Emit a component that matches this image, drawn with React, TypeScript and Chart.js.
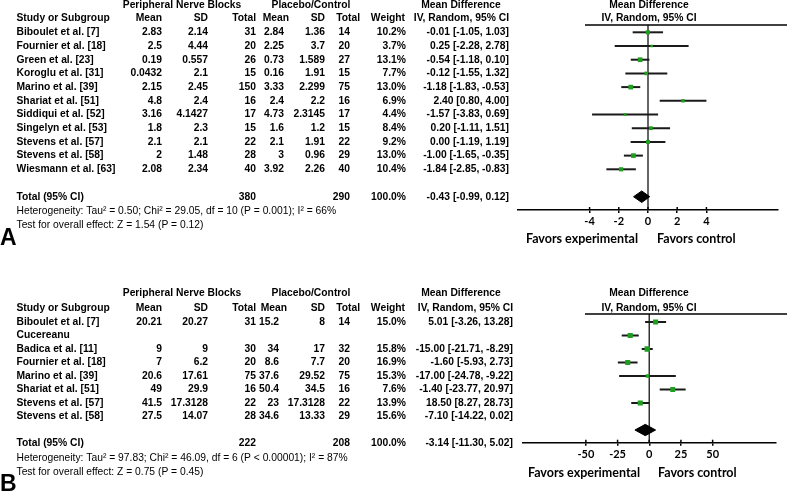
import React, { useEffect, useRef } from "react";
import { Chart, registerables } from "chart.js";

Chart.register(...registerables);

// ---------------- Panel A data ----------------
const studiesA = [
  "Biboulet et al. [7]",
  "Fournier et al. [18]",
  "Green et al. [23]",
  "Koroglu et al. [31]",
  "Marino et al. [39]",
  "Shariat et al. [51]",
  "Siddiqui et al. [52]",
  "Singelyn et al. [53]",
  "Stevens et al. [57]",
  "Stevens et al. [58]",
  "Wiesmann et al. [63]",
];
const pnbMeanA = [2.83, 2.5, 0.19, 0.0432, 2.15, 4.8, 3.16, 1.8, 2.1, 2, 2.08];
const pnbSdA = [2.14, 4.44, 0.557, 2.1, 2.45, 2.4, 4.1427, 2.3, 2.1, 1.48, 2.34];
const pnbTotalA = [31, 20, 26, 15, 150, 16, 17, 15, 22, 28, 40];
const ctlMeanA = [2.84, 2.25, 0.73, 0.16, 3.33, 2.4, 4.73, 1.6, 2.1, 3, 3.92];
const ctlSdA = [1.36, 3.7, 1.589, 1.91, 2.299, 2.2, 2.3145, 1.2, 1.91, 0.96, 2.26];
const ctlTotalA = [14, 20, 27, 15, 75, 16, 17, 15, 22, 29, 40];
const weightA = [10.2, 3.7, 13.1, 7.7, 13.0, 6.9, 4.4, 8.4, 9.2, 13.0, 10.4];
const mdA = [-0.01, 0.25, -0.54, -0.12, -1.18, 2.4, -1.57, 0.2, 0.0, -1.0, -1.84];
const lowA = [-1.05, -2.28, -1.18, -1.55, -1.83, 0.8, -3.83, -1.11, -1.19, -1.65, -2.85];
const highA = [1.03, 2.78, 0.1, 1.32, -0.53, 4.0, 0.69, 1.51, 1.19, -0.35, -0.83];
const totalsA = [380, 290];
const pooledA = [-0.43, -0.99, 0.12];
const hetA = "Heterogeneity: Tau² = 0.50; Chi² = 29.05, df = 10 (P = 0.001); I² = 66%";
const overallA = "Test for overall effect: Z = 1.54 (P = 0.12)";
const ticksA = [-4, -2, 0, 2, 4];
const rangeA = [-8.9, 8.9];

// ---------------- Panel B data ----------------
const studiesB = [
  "Biboulet et al. [7]",
  "Cucereanu\nBadica et al. [11]",
  "Fournier et al. [18]",
  "Marino et al. [39]",
  "Shariat et al. [51]",
  "Stevens et al. [57]",
  "Stevens et al. [58]",
];
const pnbMeanB = [20.21, 9, 7, 20.6, 49, 41.5, 27.5];
const pnbSdB = [20.27, 9, 6.2, 17.61, 29.9, 17.3128, 14.07];
const pnbTotalB = [31, 30, 20, 75, 16, 22, 28];
const ctlMeanB = [15.2, 34, 8.6, 37.6, 50.4, 23, 34.6];
const ctlSdB = [8, 17, 7.7, 29.52, 34.5, 17.3128, 13.33];
const ctlTotalB = [14, 32, 20, 75, 16, 22, 29];
const weightB = [15.0, 15.8, 16.9, 15.3, 7.6, 13.9, 15.6];
const mdB = [5.01, -15.0, -1.6, -17.0, -1.4, 18.5, -7.1];
const lowB = [-3.26, -21.71, -5.93, -24.78, -23.77, 8.27, -14.22];
const highB = [13.28, -8.29, 2.73, -9.22, 20.97, 28.73, 0.02];
const totalsB = [222, 208];
const pooledB = [-3.14, -11.3, 5.02];
const hetB = "Heterogeneity: Tau² = 97.83; Chi² = 46.09, df = 6 (P < 0.00001); I² = 87%";
const overallB = "Test for overall effect: Z = 0.75 (P = 0.45)";
const ticksB = [-50, -25, 0, 25, 50];
const rangeB = [-100, 100];

const ARIAL = "'Liberation Sans', Arial, sans-serif";
const CAL = "Lato, 'Open Sans', sans-serif";
const BOLD = `bold 10.3px ${ARIAL}`;
const NORMAL = `10.3px ${ARIAL}`;

type Panel = {
  letter: string;
  studies: string[];
  pnbMean: number[];
  pnbSd: number[];
  pnbTotal: number[];
  ctlMean: number[];
  ctlSd: number[];
  ctlTotal: number[];
  weight: number[];
  md: number[];
  low: number[];
  high: number[];
  totals: number[];
  pooled: number[];
  het: string;
  overall: string;
  ticks: number[];
  range: number[];
  sequentialPlotRows: boolean;
  L: any;
};

const panelA: Panel = {
  letter: "A",
  studies: studiesA,
  pnbMean: pnbMeanA,
  pnbSd: pnbSdA,
  pnbTotal: pnbTotalA,
  ctlMean: ctlMeanA,
  ctlSd: ctlSdA,
  ctlTotal: ctlTotalA,
  weight: weightA,
  md: mdA,
  low: lowA,
  high: highA,
  totals: totalsA,
  pooled: pooledA,
  het: hetA,
  overall: overallA,
  ticks: ticksA,
  range: rangeA,
  sequentialPlotRows: false,
  L: {
    H: 250,
    head1: 5.5,
    head2: 18.5,
    lineY: 25,
    row0: 32.3,
    step: 13.7,
    axisY: 210,
    plotLeft: 518,
    plotRight: 778,
    favorsY: 239,
    favL: 638,
    favR: 657,
    letterY: 245,
    cols: [162, 208, 256, 284, 325, 350, 406, 509],
    ctlMeanHead: 289,
    mdHead: 509,
  },
};

const panelB: Panel = {
  letter: "B",
  studies: studiesB,
  pnbMean: pnbMeanB,
  pnbSd: pnbSdB,
  pnbTotal: pnbTotalB,
  ctlMean: ctlMeanB,
  ctlSd: ctlSdB,
  ctlTotal: ctlTotalB,
  weight: weightB,
  md: mdB,
  low: lowB,
  high: highB,
  totals: totalsB,
  pooled: pooledB,
  het: hetB,
  overall: overallB,
  ticks: ticksB,
  range: rangeB,
  sequentialPlotRows: true,
  L: {
    H: 241,
    head1: 43.3,
    head2: 58.3,
    lineY: 64,
    row0: 72,
    step: 13.5,
    axisY: 192.7,
    plotLeft: 522.5,
    plotRight: 776,
    favorsY: 222.7,
    favL: 640,
    favR: 658,
    letterY: 241,
    cols: [162, 208, 256, 279, 325, 350, 406, 513],
    ctlMeanHead: 287,
    mdHead: 513,
  },
};

function fmtCI(m: number, lo: number, hi: number) {
  return `${m.toFixed(2)} [${lo.toFixed(2)}, ${hi.toFixed(2)}]`;
}

function buildConfig(p: Panel): any {
  const L = p.L;
  const yMin = (L.lineY - L.row0) / L.step;
  const yMax = (L.axisY - L.row0) / L.step;

  const tableRows: number[] = [];
  let r = 0;
  p.studies.forEach((s) => {
    const lines = s.split("\n").length;
    r += lines - 1;
    tableRows.push(r);
    r += 1;
  });
  const lastTableRow = r - 1;
  const totalRow = lastTableRow + 2;
  const plotRows = p.md.map((_, i) => (p.sequentialPlotRows ? i : tableRows[i]));
  const diamondRow = p.md.length + 1;
  const dh = 0.42;
  const [pm, plo, phi] = p.pooled;

  const datasets: any[] = [];
  datasets.push({
    label: "effect",
    data: p.md.map((m, i) => ({ x: m, y: plotRows[i] })),
    pointStyle: "rect",
    pointRadius: p.weight.map((w) => 0.92 * Math.sqrt(w)),
    backgroundColor: "#1f9f1f",
    borderWidth: 0,
    order: 0,
  });
  datasets.push({
    label: "pooled",
    data: [
      { x: plo, y: diamondRow },
      { x: pm, y: diamondRow - dh },
      { x: phi, y: diamondRow },
      { x: pm, y: diamondRow + dh },
      { x: plo, y: diamondRow },
    ],
    showLine: true,
    fill: "shape",
    backgroundColor: "#000",
    borderColor: "#000",
    borderWidth: 1,
    pointRadius: 0,
    order: 1,
  });
  p.md.forEach((_, i) => {
    datasets.push({
      label: "ci" + i,
      data: [
        { x: p.low[i], y: plotRows[i] },
        { x: p.high[i], y: plotRows[i] },
      ],
      showLine: true,
      borderColor: "#1a1a1a",
      borderWidth: 2,
      pointRadius: 0,
      order: 2,
    });
  });
  datasets.push({
    label: "zero",
    data: [
      { x: 0, y: yMin },
      { x: 0, y: yMax },
    ],
    showLine: true,
    borderColor: "#333",
    borderWidth: 1.5,
    pointRadius: 0,
    order: 3,
  });

  const tablePlugin = {
    id: "forestTable",
    afterDraw(chart: any) {
      const ctx = chart.ctx as CanvasRenderingContext2D;
      const rowY = (row: number) => L.row0 + row * L.step;
      const t = (s: string, x: number, y: number, align: CanvasTextAlign, font: string) => {
        ctx.font = font;
        ctx.textAlign = align;
        ctx.textBaseline = "middle";
        ctx.fillText(s, x, y);
      };
      ctx.save();
      ctx.fillStyle = "#000";
      const c = L.cols;
      t("Peripheral Nerve Blocks", 182, L.head1, "center", BOLD);
      t("Placebo/Control", 311, L.head1, "center", BOLD);
      t("Mean Difference", 461, L.head1, "center", BOLD);
      t("Mean Difference", 649, L.head1, "center", BOLD);
      t("Study or Subgroup", 16.5, L.head2, "left", BOLD);
      t("Mean", c[0], L.head2, "right", BOLD);
      t("SD", c[1], L.head2, "right", BOLD);
      t("Total", c[2], L.head2, "right", BOLD);
      t("Mean", L.ctlMeanHead, L.head2, "right", BOLD);
      t("SD", c[4], L.head2, "right", BOLD);
      t("Total", 360, L.head2, "right", BOLD);
      t("Weight", 405, L.head2, "right", BOLD);
      t("IV, Random, 95% CI", L.mdHead, L.head2, "right", BOLD);
      t("IV, Random, 95% CI", 649, L.head2, "center", BOLD);
      ctx.strokeStyle = "#000";
      ctx.lineWidth = 1.5;
      ctx.beginPath();
      ctx.moveTo(585, L.lineY);
      ctx.lineTo(787, L.lineY);
      ctx.stroke();
      p.studies.forEach((s, i) => {
        const lines = s.split("\n");
        const last = tableRows[i];
        lines.forEach((ln, k) => t(ln, 16.5, rowY(last - (lines.length - 1 - k)), "left", BOLD));
        const y = rowY(last);
        t(String(p.pnbMean[i]), c[0], y, "right", BOLD);
        t(String(p.pnbSd[i]), c[1], y, "right", BOLD);
        t(String(p.pnbTotal[i]), c[2], y, "right", BOLD);
        t(String(p.ctlMean[i]), c[3], y, "right", BOLD);
        t(String(p.ctlSd[i]), c[4], y, "right", BOLD);
        t(String(p.ctlTotal[i]), c[5], y, "right", BOLD);
        t(p.weight[i].toFixed(1) + "%", c[6], y, "right", BOLD);
        t(fmtCI(p.md[i], p.low[i], p.high[i]), c[7], y, "right", BOLD);
      });
      const ty = rowY(totalRow);
      t("Total (95% CI)", 16.5, ty, "left", BOLD);
      t(String(p.totals[0]), c[2], ty, "right", BOLD);
      t(String(p.totals[1]), c[5], ty, "right", BOLD);
      t("100.0%", c[6], ty, "right", BOLD);
      t(fmtCI(pm, plo, phi), c[7], ty, "right", BOLD);
      t(p.het, 16.5, ty + 14.5, "left", NORMAL);
      t(p.overall, 16.5, ty + 28.5, "left", NORMAL);
      const xs = chart.scales.x;
      ctx.strokeStyle = "#000";
      ctx.lineWidth = 1.5;
      xs.ticks.forEach((tk: any) => {
        const x = xs.getPixelForValue(tk.value);
        ctx.beginPath();
        ctx.moveTo(x, L.axisY - 3);
        ctx.lineTo(x, L.axisY);
        ctx.stroke();
      });
      t("Favors experimental", L.favL, L.favorsY, "right", `bold 12.5px ${CAL}`);
      t("Favors control", L.favR, L.favorsY, "left", `bold 12.5px ${CAL}`);
      ctx.font = `bold 23px ${ARIAL}`;
      ctx.textAlign = "left";
      ctx.textBaseline = "alphabetic";
      ctx.fillText(p.letter, 0, L.letterY);
      ctx.restore();
    },
  };

  return {
    type: "scatter",
    data: { datasets },
    plugins: [tablePlugin],
    options: {
      responsive: false,
      animation: false,
      events: [],
      layout: { padding: { left: L.plotLeft, right: 787 - L.plotRight, top: L.lineY, bottom: 0 } },
      plugins: { legend: { display: false }, tooltip: { enabled: false } },
      scales: {
        x: {
          type: "linear",
          position: "bottom",
          min: p.range[0],
          max: p.range[1],
          afterBuildTicks: (s: any) => {
            s.ticks = p.ticks.map((v) => ({ value: v }));
          },
          afterFit: (s: any) => {
            s.height = L.H - L.axisY;
          },
          grid: { display: true, drawOnChartArea: false, drawTicks: true, tickLength: 3, color: "#000", lineWidth: 1.5 },
          border: { display: true, color: "#000", width: 1.5 },
          ticks: {
            color: "#000",
            padding: 2,
            maxRotation: 0,
            autoSkip: false,
            font: { family: CAL, size: 11, weight: "bold" },
            callback: (v: any) => String(v),
          },
        },
        y: { type: "linear", display: false, min: yMin, max: yMax, reverse: true },
      },
    },
  };
}

function ForestPanel({ panel, top }: { panel: Panel; top: number }) {
  const ref = useRef<HTMLCanvasElement>(null);
  useEffect(() => {
    const chart = new Chart(ref.current as HTMLCanvasElement, buildConfig(panel));
    return () => chart.destroy();
  }, [panel]);
  return (
    <canvas
      ref={ref}
      width={787}
      height={panel.L.H}
      style={{ position: "absolute", left: 0, top, width: 787, height: panel.L.H, display: "block" }}
    />
  );
}

export default function App() {
  return (
    <div style={{ position: "fixed", left: 0, top: 0, width: 787, height: 491, background: "#fff", overflow: "hidden" }}>
      <ForestPanel panel={panelA} top={0} />
      <ForestPanel panel={panelB} top={250} />
    </div>
  );
}
